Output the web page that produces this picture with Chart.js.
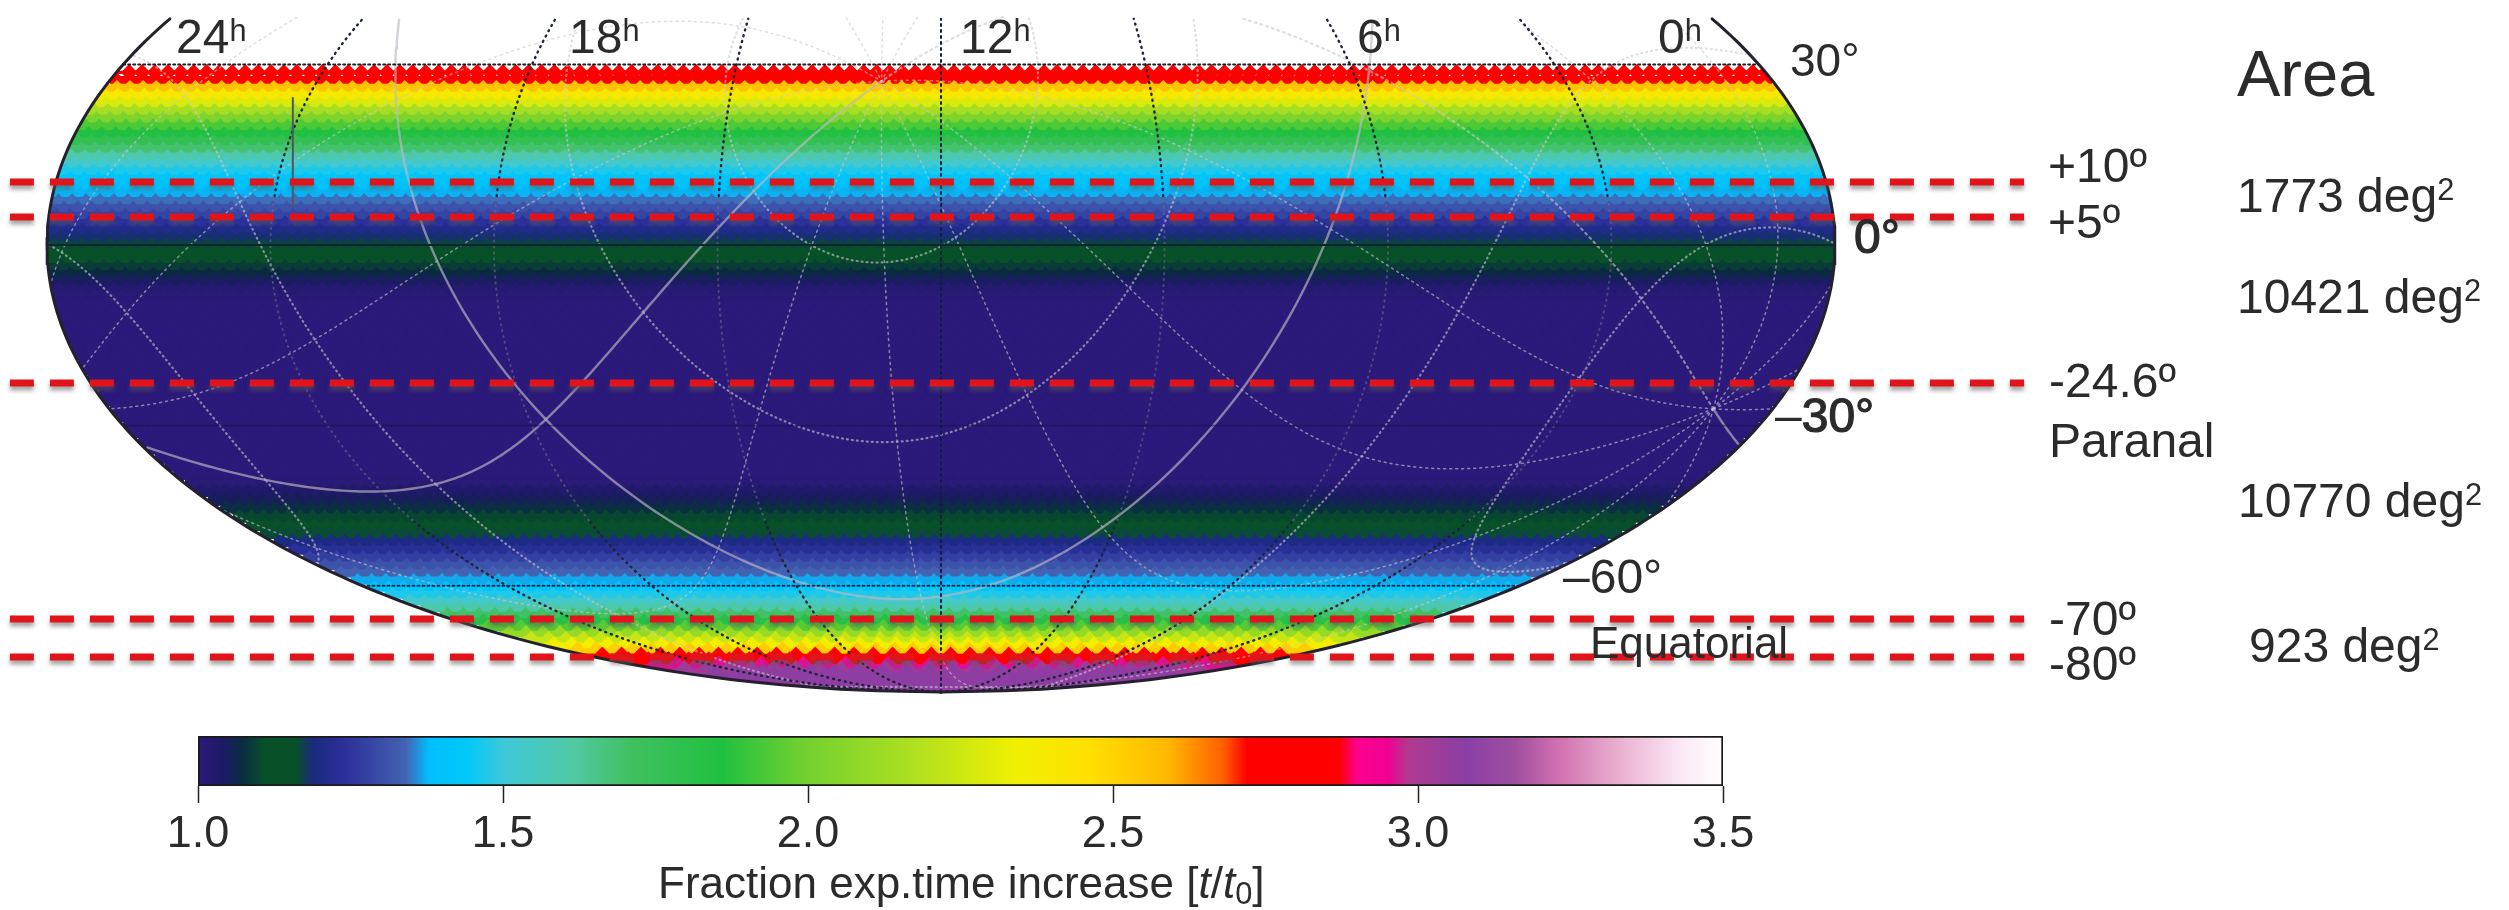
<!DOCTYPE html>
<html>
<head>
<meta charset="utf-8">
<title>Fraction exp.time increase</title>
<script src="https://cdn.jsdelivr.net/npm/chart.js@4"></script>
<style>
  html, body { margin: 0; background: #fff; }
  body { position: relative; width: 2509px; height: 910px; overflow: hidden; filter: blur(0.7px); }
  canvas { position: absolute; left: 0; }
  #map { top: 0; }
  #bar { top: 700px; }
  .lbl { position: absolute; font-family: "Liberation Sans", sans-serif; color: #2b2b2b; line-height: 1; white-space: nowrap; }
  .lbl sup { font-size: 0.64em; line-height: 0; vertical-align: 0.4em; }
  .lbl sub { font-size: 0.7em; line-height: 0; vertical-align: -0.2em; }
  .heavy { -webkit-text-stroke: 1.2px #2b2b2b; }
</style>
</head>
<body>
<canvas id="map" width="2509" height="910"></canvas>
<canvas id="bar" width="2509" height="170"></canvas>
<script>
// colour scale
const scaleValues = [1.0, 1.04, 1.07, 1.11, 1.16, 1.19, 1.24, 1.34, 1.38, 1.44, 1.505, 1.62, 1.71, 1.86, 1.99, 2.175, 2.34, 2.46, 2.59, 2.68, 2.72, 2.87, 2.9, 2.95, 2.985, 3.08, 3.16, 3.23, 3.33, 3.43, 3.5];
const scaleColors = ["#2b1a7a", "#1d1a66", "#0a2a44", "#075028", "#075028", "#1a2a80", "#2c309a", "#4462b2", "#00c0ff", "#00c8f8", "#40c8d8", "#50c8a0", "#40c060", "#20c040", "#70d030", "#b0e020", "#f0f000", "#ffe000", "#ffb800", "#ff6000", "#ff0000", "#ff0000", "#ff0090", "#f00090", "#b03a90", "#8a3fa5", "#a04fa0", "#d070b0", "#eab0d0", "#fbe8f5", "#ffffff"];
const barTicks = [1.0, 1.5, 2.0, 2.5, 3.0, 3.5];

// t/t0 per HEALPix ring (nside 32), from ring 41 just under +30 deg to the south pole
const firstRing = 41;
const ringFactor = [
  2.80, 2.72, 2.55, 2.40, 2.28, 2.15, 2.03, 1.93, 1.85, 1.77, 1.69, 1.60,
  1.53, 1.47, 1.42, 1.40, 1.375, 1.345, 1.31, 1.28, 1.24, 1.21, 1.185, 1.17,
  1.15, 1.12, 1.09, 1.07, 1.045, 1.02, 1.01,
  1.00, 1.00, 1.00, 1.00, 1.00, 1.00, 1.00, 1.00, 1.00, 1.00, 1.00, 1.00,
  1.00, 1.00, 1.00, 1.00, 1.00, 1.00, 1.00, 1.00, 1.00, 1.00, 1.00,
  1.01, 1.03, 1.05, 1.075, 1.10, 1.135, 1.165, 1.195, 1.23, 1.27, 1.31, 1.34,
  1.37, 1.41, 1.47, 1.53, 1.60, 1.70, 1.82, 1.95, 2.10, 2.23, 2.36, 2.52,
  2.72, 2.85, 2.96, 3.03, 3.07, 3.07, 3.07, 3.07, 3.07,
];

// red cuts: hand placed on the original, so kept as map heights rather than true declinations
const cutNames = ["+10º", "+5º", "-24.6º", "-70º", "-80º"];
const cutMapY = [0.141, 0.0626, -0.309, -0.8367, -0.9217];

const raHours = [3, 6, 9, 15, 18, 21];
const galLon = [30, 60, 90, 120, 150, 180, 210, 240, 270, 300, 330];
const galLat = [-60, -30, 30, 60];

const NSIDE = 32;
const MAP_TOP = 0.51; // the original is cropped here
const rad = Math.PI / 180;

function mollTheta(dec) {
  const target = Math.PI * Math.sin(dec * rad);
  if (Math.abs(dec) >= 90) return Math.sign(dec) * Math.PI / 2;
  let t = dec * rad * 0.8;
  for (let i = 0; i < 30; i++) {
    const c = Math.cos(t);
    t -= (2 * t + Math.sin(2 * t) - target) / (4 * c * c + 1e-9);
  }
  return t;
}

// lon is degrees from the map centre, positive to the right
function project(lon, dec) {
  const t = mollTheta(dec);
  return { x: (2 * lon / 180) * Math.cos(t), y: Math.sin(t) };
}

function colorFor(v) {
  let i = 0;
  while (i < scaleValues.length - 2 && v > scaleValues[i + 1]) i++;
  const f = Math.min(1, Math.max(0, (v - scaleValues[i]) / (scaleValues[i + 1] - scaleValues[i])));
  const a = parseInt(scaleColors[i].slice(1), 16);
  const b = parseInt(scaleColors[i + 1].slice(1), 16);
  const mix = (s) => Math.round(((a >> s) & 255) * (1 - f) + ((b >> s) & 255) * f);
  return `rgb(${mix(16)},${mix(8)},${mix(0)})`;
}

function ringDec(ring) {
  const j = 4 * NSIDE - ring;
  const z = j < NSIDE ? -(1 - (j * j) / (3 * NSIDE * NSIDE)) : 4 / 3 - (2 * ring) / (3 * NSIDE);
  return Math.asin(z) / rad;
}

function keepCropped(list) {
  return list.map((p) => (p.y > MAP_TOP ? { x: NaN, y: NaN } : p));
}

function meridian(lon, decFrom, decTo) {
  const pts = [];
  for (let d = decFrom; d <= decTo; d += 1) pts.push(project(lon, d));
  return keepCropped(pts);
}

function parallel(dec) {
  const pts = [];
  for (let l = -180; l <= 180; l += 4) pts.push(project(l, dec));
  return pts;
}

const lineBase = { type: "line", pointRadius: 0, borderCapStyle: "round", tension: 0 };
const datasets = [];

// one band and one row of diamonds per ring; the band fills the gaps the diamonds leave near the limb
ringFactor.forEach((value, n) => {
  const ring = firstRing + n;
  const j = 4 * NSIDE - ring;
  const polar = j < NSIDE;
  const count = polar ? 4 * j : 4 * NSIDE;
  const shift = polar ? 0.5 : ((ring - NSIDE + 1) % 2) / 2;
  const dec = ringDec(ring);
  const t = mollTheta(dec);
  const colHalf = (894 * Math.cos(t)) / count;
  const rowGap = 447 * Math.abs(Math.sin(t) - Math.sin(mollTheta(ringDec(ring - 1))));
  const color = colorFor(value);
  const points = [];
  for (let k = 1; k <= count; k++) points.push(project(((k - shift) * 360) / count - 180, dec));
  datasets.push({ ...lineBase, data: parallel(dec), order: 400 - 2 * n, clipEllipse: true,
    borderColor: color, borderWidth: rowGap * (n === 0 ? 0.4 : 1.1), borderCapStyle: "butt" });
  datasets.push({ type: "scatter", data: points, order: 399 - 2 * n, clipEllipse: true,
    pointStyle: "rectRot", pointBackgroundColor: color, pointRadius: Math.max(colHalf, rowGap) + 0.4, pointBorderWidth: 0 });
});

// galactic (l, b) to map position, RA runs right to left
function galactic(l, b) {
  const dG = 27.12825 * rad, aG = 192.85948, lN = 122.93192;
  const dl = (lN - l) * rad;
  const bb = b * rad;
  const sd = Math.sin(dG) * Math.sin(bb) + Math.cos(dG) * Math.cos(bb) * Math.cos(dl);
  const dec = Math.asin(sd) / rad;
  const ra = aG + Math.atan2(Math.cos(bb) * Math.sin(dl), Math.cos(dG) * Math.sin(bb) - Math.sin(dG) * Math.cos(bb) * Math.cos(dl)) / rad;
  let lon = (180 - ra) % 360;
  if (lon > 180) lon -= 360;
  if (lon < -180) lon += 360;
  return project(lon, dec);
}

function galCurve(fn) {
  const pts = [];
  let last = null;
  for (let s = 0; s <= 360; s += 1.5) {
    const p = fn(s);
    if (last && Math.abs(p.x - last.x) > 1) pts.push({ x: NaN, y: NaN });
    pts.push(p);
    last = p;
  }
  return keepCropped(pts);
}

// galactic graticule, plane and l=0 drawn solid
galLon.forEach((l) => {
  datasets.push({ ...lineBase, data: galCurve((s) => galactic(l, s / 2 - 90)), order: 40,
    borderColor: "rgba(205,200,205,0.6)", borderWidth: l === 180 ? 2.2 : 1.5, borderDash: [2, 4] });
});
galLat.forEach((b) => {
  datasets.push({ ...lineBase, data: galCurve((s) => galactic(s, b)), order: 40,
    borderColor: "rgba(205,200,205,0.6)", borderWidth: 2.2, borderDash: [1, 4] });
});
datasets.push({ ...lineBase, data: galCurve((s) => galactic(0, s / 2 - 90)), order: 39,
  borderColor: "rgba(190,185,195,0.65)", borderWidth: 2.4 });
datasets.push({ ...lineBase, data: galCurve((s) => galactic(s, 0)), order: 39,
  borderColor: "rgba(190,185,195,0.65)", borderWidth: 2.4 });

// RA meridians: dark at both ends, faint through the middle
raHours.forEach((h) => {
  const lon = (12 - h) * 15;
  datasets.push({ ...lineBase, data: meridian(lon, -90, -47), order: 30, borderColor: "#1c2438", borderWidth: 2.4, borderDash: [1, 5] });
  datasets.push({ ...lineBase, data: meridian(lon, -47, 8), order: 30, borderColor: "rgba(120,110,140,0.55)", borderWidth: 2, borderDash: [1, 5] });
  datasets.push({ ...lineBase, data: meridian(lon, 8, 60), order: 30, borderColor: "#1c2438", borderWidth: 2.4, borderDash: [1, 5] });
});
datasets.push({ ...lineBase, data: meridian(0, -90, 60), order: 30, borderColor: "#141c40", borderWidth: 2, borderDash: [2, 4] });

// parallels
datasets.push({ ...lineBase, data: parallel(30), order: 29, borderColor: "#1c1c24", borderWidth: 2, borderDash: [2, 3] });
datasets.push({ ...lineBase, data: parallel(-60), order: 29, borderColor: "#0c2a50", borderWidth: 2, borderDash: [2, 3] });
datasets.push({ ...lineBase, data: parallel(0), order: 29, borderColor: "#0a2a20", borderWidth: 1.8 });
datasets.push({ ...lineBase, data: parallel(-30), order: 29, borderColor: "rgba(20,15,70,0.5)", borderWidth: 1.6 });

// stray tick on the original map
datasets.push({ ...lineBase, data: [{ x: -1.45, y: 0.329 }, { x: -1.45, y: 0.085 }], order: 28, borderColor: "#55555f", borderWidth: 2 });

// map outline, both limbs
[-180, 180].forEach((lon) => {
  datasets.push({ ...lineBase, data: meridian(lon, -90, 60), order: 20, borderColor: "#24202c", borderWidth: 3 });
});

cutMapY.forEach((y, i) => {
  datasets.push({ ...lineBase, label: cutNames[i], data: [{ x: -2.083, y }, { x: 2.423, y }], order: 10,
    borderColor: "#e0141a", borderWidth: 7, borderDash: [24, 16], borderCapStyle: "butt", softShadow: true });
});

const mapPlugin = {
  id: "mapPlugin",
  beforeDatasetDraw(chart, args) {
    const ds = chart.data.datasets[args.index];
    const { ctx, scales } = chart;
    if (ds.clipEllipse) {
      const cx = scales.x.getPixelForValue(0);
      const cy = scales.y.getPixelForValue(0);
      const rx = scales.x.getPixelForValue(2) - cx;
      const ry = cy - scales.y.getPixelForValue(1);
      ctx.save();
      ctx.beginPath();
      ctx.ellipse(cx, cy, rx, ry, 0, 0, Math.PI * 2);
      ctx.clip();
    } else if (ds.softShadow) {
      ctx.save();
      ctx.shadowColor = "rgba(90,90,90,0.55)";
      ctx.shadowBlur = 4;
      ctx.shadowOffsetY = 4;
    }
  },
  afterDatasetDraw(chart, args) {
    const ds = chart.data.datasets[args.index];
    if (ds.clipEllipse || ds.softShadow) chart.ctx.restore();
  },
};

new Chart(document.getElementById("map"), {
  data: { datasets },
  plugins: [mapPlugin],
  options: {
    responsive: false,
    animation: false,
    events: [],
    layout: { padding: 0, autoPadding: false },
    plugins: { legend: { display: false }, tooltip: { enabled: false } },
    scales: {
      x: { type: "linear", display: false, min: -941 / 447, max: 1568 / 447 },
      y: { type: "linear", display: false, min: -665 / 447, max: 245 / 447 },
    },
  },
});

// colour bar
new Chart(document.getElementById("bar"), {
  type: "bar",
  data: {
    labels: [""],
    datasets: [{
      data: [[barTicks[0], barTicks[barTicks.length - 1]]],
      barPercentage: 1,
      categoryPercentage: 1,
      borderColor: "#1a1a1a",
      borderWidth: 2,
      borderSkipped: false,
      backgroundColor(context) {
        const { chart } = context;
        const area = chart.chartArea;
        if (!area) return "#888";
        const sx = chart.scales.x;
        const g = chart.ctx.createLinearGradient(area.left, 0, area.right, 0);
        scaleValues.forEach((v, i) => {
          g.addColorStop((sx.getPixelForValue(v) - area.left) / (area.right - area.left), scaleColors[i]);
        });
        return g;
      },
    }],
  },
  options: {
    indexAxis: "y",
    responsive: false,
    animation: false,
    events: [],
    layout: { padding: { left: 198, right: 786, top: 36, bottom: 0 } },
    plugins: { legend: { display: false }, tooltip: { enabled: false } },
    scales: {
      y: { display: false },
      x: {
        type: "linear",
        min: 1,
        max: 3.5,
        afterFit(scale) { scale.height = 84; },
        afterBuildTicks(scale) { scale.ticks = barTicks.map((value) => ({ value })); },
        border: { display: false },
        grid: { drawOnChartArea: false, tickLength: 17, tickColor: "#222", tickWidth: 1.5 },
        ticks: {
          maxRotation: 0,
          padding: 5,
          color: "#2b2b2b",
          font: { family: "Liberation Sans", size: 45 },
          callback: (v) => v.toFixed(1),
        },
      },
    },
  },
});

// annotation text: [html, left, baseline, size]
const notes = [
  ["24<sup>h</sup>", 176, 53, 48], ["18<sup>h</sup>", 569, 53, 48], ["12<sup>h</sup>", 960, 53, 48],
  ["6<sup>h</sup>", 1357, 53, 48], ["0<sup>h</sup>", 1658, 53, 48],
  ["30°", 1790, 75, 46], ['<span class="heavy">0°</span>', 1854, 253, 48],
  ['–<span class="heavy">30°</span>', 1775, 432, 48], ["–60°", 1563, 593, 48],
  ["Paranal", 2049, 457, 48], ["Equatorial", 1590, 658, 44],
  ["Area", 2237, 95, 65],
  ["1773 deg<sup>2</sup>", 2237, 212, 48], ["10421 deg<sup>2</sup>", 2237, 313, 48],
  ["10770 deg<sup>2</sup>", 2238, 517, 48], ["923 deg<sup>2</sup>", 2249, 662, 48],
  [cutNames[0], 2048, 182, 48], [cutNames[1], 2048, 238, 48], [cutNames[2], 2049, 397, 48],
  [cutNames[3], 2049, 635, 48], [cutNames[4], 2049, 680, 48],
  ["Fraction exp.time increase [<i>t</i>/<i>t</i><sub>0</sub>]", 658, 898, 44],
];
notes.forEach(([html, left, base, size]) => {
  const el = document.createElement("div");
  el.className = "lbl";
  el.innerHTML = html;
  el.style.left = left + "px";
  el.style.top = base - 0.83 * size + "px";
  el.style.fontSize = size + "px";
  document.body.appendChild(el);
});
</script>
</body>
</html>
